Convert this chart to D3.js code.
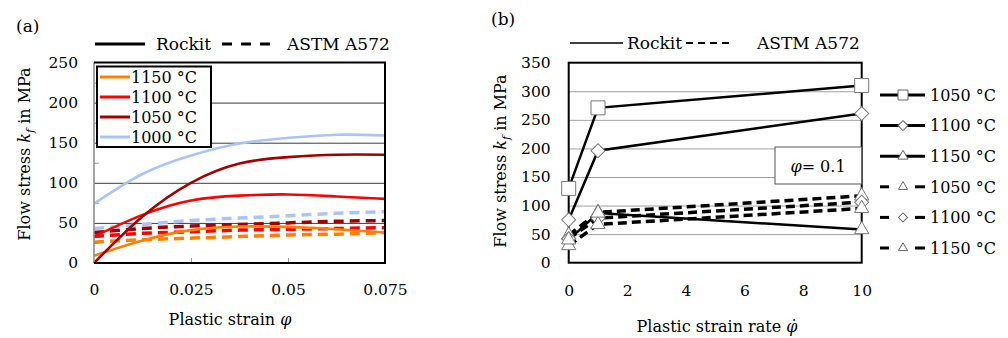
<!DOCTYPE html>
<html>
<head>
<meta charset="utf-8">
<script src="https://cdn.jsdelivr.net/npm/d3@7"></script>
<style>
  body { margin: 0; background: #fff; }
  svg { font-family: 'DejaVu Serif', serif; }
</style>
</head>
<body>
<svg id="chart" width="1008" height="338"></svg>
<script>
// (a) flow curves, strain vs stress
const strain = [0, 0.0125, 0.025, 0.0375, 0.05, 0.0625, 0.075]
const temps = ['1150 °C', '1100 °C', '1050 °C', '1000 °C']
const tempColors = ['#ff8000', '#ff0000', '#a00000', '#a9c4f7']
const rockitA = [
  [9, 28, 41, 45.5, 45, 42, 38],
  [33, 60, 78, 84, 85.5, 83, 80],
  [0, 58, 100, 124, 132, 135, 135],
  [74, 111, 134, 149, 156, 160, 159]
]
const astmA = [
  [26, 29, 31, 33, 35, 36, 38],
  [33, 37, 39, 41, 42, 43, 44],
  [38, 43, 46, 48, 50, 52, 53],
  [43, 48, 53, 56, 59, 62, 64]
]
const xTicksA = [0, 0.025, 0.05, 0.075]
const yTicksA = [0, 50, 100, 150, 200, 250]

// (b) stress vs strain rate at phi = 0.1
const rate = [0, 1, 10]
const tempsB = ['1050 °C', '1100 °C', '1150 °C']
const rockitB = [
  [130, 271, 310],
  [75, 196, 261],
  [40, 87, 58]
]
const astmB = [
  [48, 88, 117],
  [42, 78, 106],
  [30, 67, 95]
]
const markersB = ['square', 'diamond', 'triangle']
const xTicksB = [0, 2, 4, 6, 8, 10]
const yTicksB = [0, 50, 100, 150, 200, 250, 300, 350]

const svg = d3.select('#chart')

function yLabel (g, x, y) {
  const t = g.append('text')
    .attr('transform', `translate(${x},${y}) rotate(-90)`)
    .attr('text-anchor', 'middle')
    .style('font-size', '16px')
  t.append('tspan').text('Flow stress ')
  t.append('tspan').style('font-style', 'italic').text('k')
  t.append('tspan').style('font-style', 'italic').style('font-size', '11px').attr('dy', 4).text('f')
  t.append('tspan').attr('dy', -4).text(' in MPa')
}

function symbolPath (kind, size) {
  if (kind === 'square') return d3.symbol(d3.symbolSquare, size * size)()
  if (kind === 'diamond') return d3.symbol(d3.symbolSquare, size * size / 2)()
  return d3.symbol(d3.symbolTriangle, size * size * 0.45)()
}

// ---------- panel (a) ----------
{
  const x = d3.scaleLinear([0, 0.075], [94, 385])
  const y = d3.scaleLinear([0, 250], [263, 62.5])
  const g = svg.append('g')

  g.append('text').attr('x', 16).attr('y', 32).style('font-size', '17px').text('(a)')

  // gridlines
  g.append('g')
    .attr('transform', `translate(${x(0)},0)`)
    .call(d3.axisLeft(y).tickValues([50, 100, 150, 200]).tickSize(-(x(0.075) - x(0))).tickFormat(''))
    .call(a => a.select('.domain').remove())
    .call(a => a.selectAll('line').attr('stroke', '#3a3a3a').attr('stroke-width', 1))

  // minor ticks left and bottom
  g.append('g')
    .attr('transform', `translate(${x(0)},0)`)
    .call(d3.axisRight(y).tickValues([25, 75, 125, 175, 225]).tickSize(5).tickFormat(''))
    .call(a => a.select('.domain').remove())
    .call(a => a.selectAll('line').attr('stroke', '#999'))
  g.append('g')
    .attr('transform', `translate(0,${y(0)})`)
    .call(d3.axisTop(x).tickValues([0.025, 0.05]).tickSize(5).tickFormat(''))
    .call(a => a.select('.domain').remove())
    .call(a => a.selectAll('line').attr('stroke', '#999'))

  // tick labels
  g.append('g')
    .attr('transform', `translate(${x(0) - 8},0)`)
    .call(d3.axisLeft(y).tickValues(yTicksA).tickSize(0).tickPadding(8))
    .call(a => a.select('.domain').remove())
    .call(a => a.selectAll('text').style('font-size', '15.5px').style('font-family', 'DejaVu Serif').attr('fill', '#000'))
  g.append('g')
    .attr('transform', `translate(0,${y(0) + 18})`)
    .call(d3.axisBottom(x).tickValues(xTicksA).tickSize(0).tickFormat(d => d === 0 ? '0' : String(d)))
    .call(a => a.select('.domain').remove())
    .call(a => a.selectAll('text').style('font-size', '15.5px').style('font-family', 'DejaVu Serif').attr('fill', '#000'))

  const line = d3.line().x((d, i) => x(strain[i])).y(d => y(d)).curve(d3.curveNatural)

  astmA.forEach((s, k) => {
    g.append('path').attr('d', line(s)).attr('fill', 'none')
      .attr('stroke', tempColors[k]).attr('stroke-width', 3.5).attr('stroke-dasharray', '10,6')
  })
  rockitA.forEach((s, k) => {
    g.append('path').attr('d', line(s)).attr('fill', 'none')
      .attr('stroke', tempColors[k]).attr('stroke-width', 2.6)
  })

  // frame
  g.append('line').attr('x1', x(0)).attr('x2', x(0)).attr('y1', y(250)).attr('y2', y(0)).attr('stroke', '#888').attr('stroke-width', 1.5)
  g.append('path')
    .attr('d', `M${x(0)},${y(250)}H${x(0.075)}V${y(0)}H${x(0)}`)
    .attr('fill', 'none').attr('stroke', '#000').attr('stroke-width', 2)

  // temperature legend
  g.append('rect').attr('x', 97).attr('y', 66.5).attr('width', 114).attr('height', 80.5)
    .attr('fill', '#fff').attr('stroke', '#000').attr('stroke-width', 2)
  temps.forEach((t, k) => {
    const yy = 77 + k * 20
    g.append('line').attr('x1', 100).attr('x2', 130).attr('y1', yy).attr('y2', yy)
      .attr('stroke', tempColors[k]).attr('stroke-width', 3)
    g.append('text').attr('x', 131).attr('y', yy).attr('dy', '0.36em')
      .style('font-size', '16px').text(t)
  })

  // material legend
  g.append('line').attr('x1', 95).attr('x2', 145).attr('y1', 44).attr('y2', 44).attr('stroke', '#000').attr('stroke-width', 3)
  g.append('text').attr('x', 156).attr('y', 44).attr('dy', '0.36em').style('font-size', '17px').text('Rockit')
  g.append('line').attr('x1', 222).attr('x2', 271).attr('y1', 44).attr('y2', 44).attr('stroke', '#000')
    .attr('stroke-width', 3).attr('stroke-dasharray', '10,9')
  g.append('text').attr('x', 287).attr('y', 44).attr('dy', '0.36em').style('font-size', '17px').text('ASTM A572')

  yLabel(g, 30, 154)
  const xl = g.append('text').attr('x', 230).attr('y', 325).attr('text-anchor', 'middle').style('font-size', '16px')
  xl.append('tspan').text('Plastic strain ')
  xl.append('tspan').style('font-style', 'italic').text('φ')
}

// ---------- panel (b) ----------
{
  const x = d3.scaleLinear([0, 10], [568.7, 861.7])
  const y = d3.scaleLinear([0, 350], [262.7, 62.7])
  const g = svg.append('g')

  g.append('text').attr('x', 491).attr('y', 25).style('font-size', '17px').text('(b)')

  g.append('g')
    .attr('transform', `translate(${x(0)},0)`)
    .call(d3.axisLeft(y).tickValues([50, 100, 150, 200, 250, 300]).tickSize(-(x(10) - x(0))).tickFormat(''))
    .call(a => a.select('.domain').remove())
    .call(a => a.selectAll('line').attr('stroke', '#a0a0a0').attr('stroke-width', 1))

  g.append('g')
    .attr('transform', `translate(${x(0) - 10},0)`)
    .call(d3.axisLeft(y).tickValues(yTicksB).tickSize(0).tickPadding(8))
    .call(a => a.select('.domain').remove())
    .call(a => a.selectAll('text').style('font-size', '15.5px').style('font-family', 'DejaVu Serif').attr('fill', '#000'))
  g.append('g')
    .attr('transform', `translate(0,${y(0) + 19})`)
    .call(d3.axisBottom(x).tickValues(xTicksB).tickSize(0))
    .call(a => a.select('.domain').remove())
    .call(a => a.selectAll('text').style('font-size', '15.5px').style('font-family', 'DejaVu Serif').attr('fill', '#000'))

  g.append('rect').attr('x', x(0)).attr('y', y(350)).attr('width', x(10) - x(0)).attr('height', y(0) - y(350))
    .attr('fill', 'none').attr('stroke', '#000').attr('stroke-width', 2)

  // phi box
  g.append('rect').attr('x', 775).attr('y', 147).attr('width', x(10) - 775).attr('height', 37)
    .attr('fill', '#fff').attr('stroke', '#555').attr('stroke-width', 1)
  const pt = g.append('text').attr('x', 818).attr('y', 166).attr('dy', '0.36em').attr('text-anchor', 'middle').style('font-size', '16px')
  pt.append('tspan').style('font-style', 'italic').text('φ')
  pt.append('tspan').text('= 0.1')

  const line = d3.line().x((d, i) => x(rate[i])).y(d => y(d))

  astmB.forEach(s => {
    g.append('path').attr('d', line(s)).attr('fill', 'none')
      .attr('stroke', '#000').attr('stroke-width', 3.5).attr('stroke-dasharray', '9,5')
  })
  rockitB.forEach(s => {
    g.append('path').attr('d', line(s)).attr('fill', 'none')
      .attr('stroke', '#000').attr('stroke-width', 2.5)
  })

  const drawMarkers = (series, kind, size) => {
    series.forEach((v, i) => {
      g.append('path')
        .attr('d', symbolPath(kind, size))
        .attr('transform', `translate(${x(rate[i])},${y(v)})` + (kind === 'diamond' ? ' rotate(45)' : ''))
        .attr('fill', '#fff').attr('stroke', '#777').attr('stroke-width', 1)
    })
  }
  astmB.forEach((s, k) => drawMarkers(s, markersB[k] === 'square' ? 'triangle' : markersB[k], 14))
  rockitB.forEach((s, k) => drawMarkers(s, markersB[k], 14))

  // material legend
  g.append('line').attr('x1', 570).attr('x2', 623).attr('y1', 43).attr('y2', 43).attr('stroke', '#000').attr('stroke-width', 1.5)
  g.append('text').attr('x', 627).attr('y', 43).attr('dy', '0.36em').style('font-size', '17px').text('Rockit')
  g.append('line').attr('x1', 686).attr('x2', 731).attr('y1', 43).attr('y2', 43).attr('stroke', '#000')
    .attr('stroke-width', 2).attr('stroke-dasharray', '7,5')
  g.append('text').attr('x', 757).attr('y', 43).attr('dy', '0.36em').style('font-size', '17px').text('ASTM A572')

  // temperature legend
  const rows = tempsB.map((t, k) => ({ t, kind: markersB[k], dashed: false }))
    .concat(tempsB.map((t, k) => ({ t, kind: markersB[k] === 'square' ? 'triangle' : markersB[k], dashed: true })))
  rows.forEach((r, k) => {
    const yy = 95 + k * 30.6
    if (r.dashed) {
      g.append('line').attr('x1', 880).attr('x2', 889).attr('y1', yy).attr('y2', yy).attr('stroke', '#000').attr('stroke-width', 3)
      g.append('line').attr('x1', 915).attr('x2', 925).attr('y1', yy).attr('y2', yy).attr('stroke', '#000').attr('stroke-width', 3)
    } else {
      g.append('line').attr('x1', 880).attr('x2', 925).attr('y1', yy).attr('y2', yy).attr('stroke', '#000').attr('stroke-width', 3)
    }
    g.append('path')
      .attr('d', symbolPath(r.kind, r.dashed ? 9 : 10))
      .attr('transform', `translate(903,${yy})` + (r.kind === 'diamond' ? ' rotate(45)' : ''))
      .attr('fill', '#fff').attr('stroke', '#666').attr('stroke-width', 1)
    g.append('text').attr('x', 930).attr('y', yy).attr('dy', '0.36em').style('font-size', '16px').text(r.t)
  })

  yLabel(g, 506, 161)
  const xl = g.append('text').attr('x', 717).attr('y', 332).attr('text-anchor', 'middle').style('font-size', '16px')
  xl.append('tspan').text('Plastic strain rate ')
  xl.append('tspan').style('font-style', 'italic').text('φ\u0307')
}
</script>
</body>
</html>
